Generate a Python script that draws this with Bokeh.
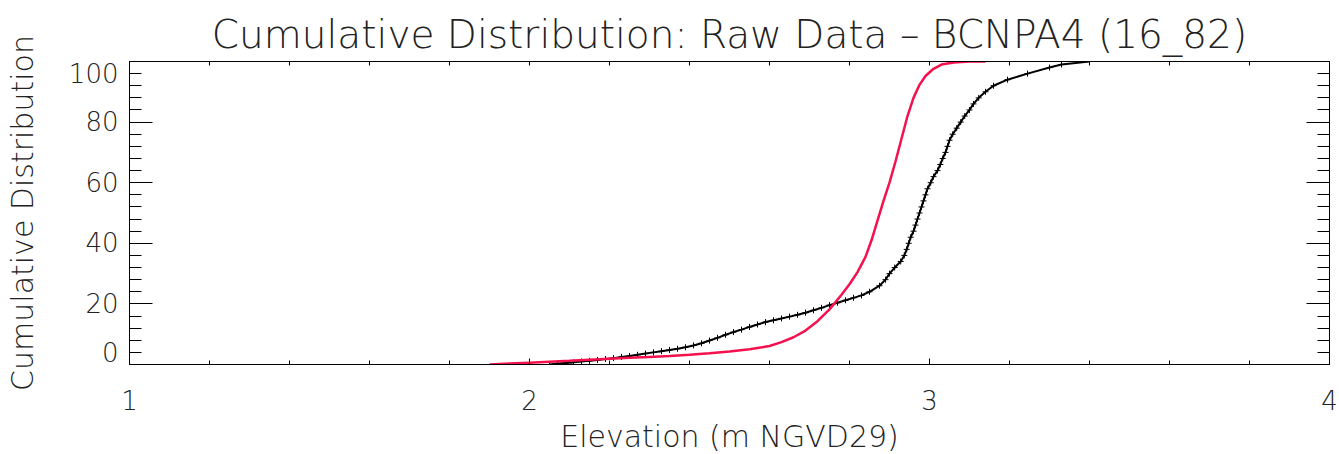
from bokeh.plotting import figure
from bokeh.models import Range1d, FixedTicker, LinearAxis
from bokeh.embed import file_html
from bokeh.resources import INLINE

FONT = "DejaVu Sans Light, DejaVu Sans ExtraLight, DejaVu Sans"

# Empirical (raw data) cumulative distribution, black with + markers
elev_obs = [2.05, 2.07, 2.09, 2.11, 2.13, 2.15, 2.17, 2.19, 2.21, 2.23, 2.25, 2.27, 2.29, 2.31,
            2.33, 2.35, 2.37, 2.39, 2.41, 2.43, 2.45, 2.47, 2.49, 2.51, 2.53, 2.55, 2.57, 2.59,
            2.61, 2.63, 2.65, 2.67, 2.69, 2.71, 2.73, 2.75, 2.77, 2.79, 2.81, 2.83, 2.85,
            2.875, 2.89, 2.90, 2.913, 2.928, 2.937, 2.943, 2.948, 2.953, 2.96, 2.965, 2.97,
            2.975, 2.98, 2.985, 2.99, 2.995, 3.003, 3.01, 3.02, 3.027, 3.033, 3.04, 3.045,
            3.05, 3.058, 3.068, 3.078, 3.088, 3.10, 3.11, 3.123, 3.14, 3.16, 3.195, 3.245,
            3.30, 3.33, 3.40]
cdf_obs = [0.0, 0.3, 0.5, 0.7, 1.0, 1.2, 1.5, 1.8, 2.1, 2.5, 2.8, 3.2, 3.6, 4.0,
           4.4, 4.8, 5.2, 5.7, 6.3, 7.0, 7.9, 8.8, 9.8, 10.7, 11.5, 12.4, 13.2, 14.0,
           14.6, 15.2, 15.8, 16.4, 17.1, 17.9, 18.7, 19.6, 20.4, 21.2, 22.0, 22.8, 24.0,
           26, 28, 30, 32, 34, 36, 38, 40, 42, 44, 46, 48,
           50, 52, 54, 56, 58, 60, 62, 64, 66, 68, 70, 72,
           74, 76, 78, 80, 82, 84, 86, 88, 90, 92, 94, 96,
           98, 99, 100]

# Fitted cumulative distribution, red
elev_fit = [1.90, 1.95, 2.00, 2.05, 2.10, 2.15, 2.20, 2.25, 2.30, 2.35, 2.40, 2.45, 2.50,
            2.55, 2.60, 2.63, 2.66, 2.69, 2.72, 2.75, 2.78, 2.80, 2.82, 2.84, 2.855, 2.87,
            2.885, 2.90, 2.915, 2.93, 2.945, 2.96, 2.975, 2.99, 3.01, 3.03, 3.06, 3.10, 3.14]
cdf_fit = [0.0, 0.3, 0.6, 0.9, 1.2, 1.6, 1.9, 2.2, 2.5, 2.8, 3.2, 3.7, 4.3,
           5.0, 6.1, 7.4, 9.0, 11.2, 14.3, 18.2, 23.0, 26.5, 30.5, 35.5, 41.0, 47.5,
           54.0, 60.0, 67.0, 74.5, 82.0, 88.0, 92.3, 95.2, 97.6, 99.0, 99.7, 100.0, 100.0]

x_major = [1, 2, 3, 4]
x_minor = [1 + 0.2 * i for i in range(16)]
y_major = [0, 20, 40, 60, 80, 100]
y_minor = [4 * i for i in range(26)]

title = "Cumulative Distribution: Raw Data \u2013 BCNPA4 (16_82)"

p = figure(frame_width=1200, frame_height=303, output_backend="svg", toolbar_location=None,
           x_range=Range1d(1, 4), y_range=Range1d(0, 100), title=title)
p.min_border_left = 129
p.min_border_right = 10
p.min_border_top = 61
p.min_border_bottom = 90
p.background_fill_color = "white"
p.border_fill_color = "white"
p.outline_line_color = "black"
p.grid.visible = False

p.title.text_font = FONT
p.title.text_font_size = "39px"
p.title.text_font_style = "normal"
p.title.text_color = "#222222"
p.title.align = "center"
p.title.standoff = 9

xt = FixedTicker(ticks=x_major, minor_ticks=x_minor)
yt = FixedTicker(ticks=y_major, minor_ticks=y_minor)

xa = p.xaxis[0]
xa.ticker = xt
xa.axis_label = "Elevation (m NGVD29)"
ya = p.yaxis[0]
ya.ticker = yt
ya.axis_label = "Cumulative Distribution"
ya.major_label_overrides = {0: "0\n", 100: "\n100"}
ya.major_label_text_line_height = 0.8

for ax in (xa, ya):
    ax.axis_line_color = "black"
    ax.major_tick_line_color = "black"
    ax.minor_tick_line_color = "black"
    ax.major_tick_out = 0
    ax.minor_tick_out = 0
    ax.major_label_text_font = FONT
    ax.major_label_text_font_size = "26px"
    ax.major_label_text_color = "#222222"
    ax.axis_label_text_font = FONT
    ax.axis_label_text_font_size = "30px"
    ax.axis_label_text_font_style = "normal"
    ax.axis_label_text_color = "#222222"

xa.major_tick_in = 6
xa.minor_tick_in = 4
xa.major_label_standoff = 25
xa.axis_label_standoff = 6
ya.major_tick_in = 23
ya.minor_tick_in = 12
ya.major_label_standoff = 11
ya.axis_label_standoff = 26


def tick_only_axis(minor, length):
    return LinearAxis(ticker=FixedTicker(ticks=[], minor_ticks=minor),
                      major_tick_in=0, major_tick_out=0,
                      minor_tick_in=length, minor_tick_out=0, major_label_standoff=0,
                      axis_line_color="black", minor_tick_line_color="black")


p.add_layout(tick_only_axis(x_minor, 4), "above")
p.add_layout(tick_only_axis(y_minor, 12), "right")
p.add_layout(tick_only_axis(y_major, 23), "right")

p.line(elev_obs, cdf_obs, line_color="black", line_width=2)
p.scatter(elev_obs, cdf_obs, marker="cross", size=6, line_color="black", line_width=1)
p.line(elev_fit, cdf_fit, line_color="#f5104e", line_width=2.5)

open("out.html", "w").write(file_html(p, INLINE))
